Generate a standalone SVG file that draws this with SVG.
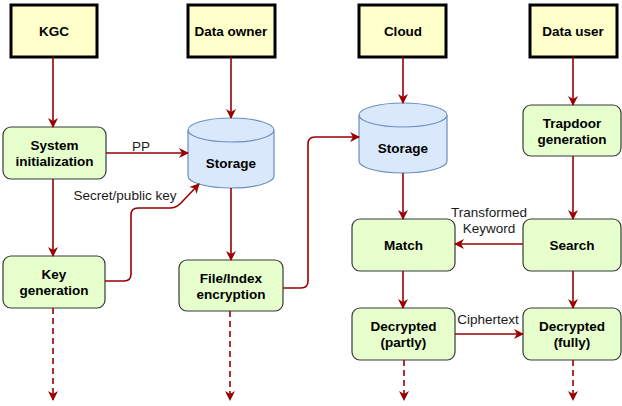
<svg xmlns="http://www.w3.org/2000/svg" width="622" height="406" viewBox="0 0 622 406">
  <style>
    .actor { fill: #FFFFCC; stroke: #000000; stroke-width: 3; }
    .step { fill: #E6FFCC; stroke: #36393D; stroke-width: 1.2; }
    .db { fill: #DAE8FC; stroke: #6C8EBF; stroke-width: 1.2; }
    .t { font-family: "Liberation Sans", Arial, sans-serif; font-size: 13.5px; font-weight: bold; fill: #000000; text-anchor: middle; }
    .lbl { font-family: "Liberation Sans", Arial, sans-serif; font-size: 13.5px; fill: #1a1a1a; text-anchor: middle; }
    .flow { fill: none; stroke: #990000; stroke-width: 1.6; }
    .dash { stroke-dasharray: 6 4; }
  </style>
  <defs>
    <marker id="arrow" markerWidth="10" markerHeight="10" refX="9" refY="5" orient="auto" markerUnits="userSpaceOnUse">
      <path d="M0,0 L10,5 L0,10 L3,5 Z" fill="#990000"/>
    </marker>
  </defs>
  <rect width="622" height="406" fill="#FFFFFF"/>

  <!-- actors -->
  <g id="kgc"><rect class="actor" x="11" y="5" width="86" height="52"/><text class="t" x="54" y="36">KGC</text></g>
  <g id="data-owner"><rect class="actor" x="188" y="5" width="87" height="52"/><text class="t" x="231" y="36">Data owner</text></g>
  <g id="cloud"><rect class="actor" x="359" y="5" width="87" height="52"/><text class="t" x="403" y="36">Cloud</text></g>
  <g id="data-user"><rect class="actor" x="530" y="5" width="87" height="52"/><text class="t" x="573" y="36">Data user</text></g>

  <!-- storage cylinders -->
  <g id="storage-owner">
    <path class="db" d="M188,130 A43,12 0 0 1 274,130 L274,176 A43,12 0 0 1 188,176 Z"/>
    <path class="db" fill="none" d="M188,130 A43,12 0 0 0 274,130"/>
    <text class="t" x="231" y="168">Storage</text>
  </g>
  <g id="storage-cloud">
    <path class="db" d="M359,115 A44,12 0 0 1 447,115 L447,161 A44,12 0 0 1 359,161 Z"/>
    <path class="db" fill="none" d="M359,115 A44,12 0 0 0 447,115"/>
    <text class="t" x="403" y="153">Storage</text>
  </g>

  <!-- process steps -->
  <g id="system-init"><rect class="step" x="3" y="127" width="103" height="52" rx="8"/><text class="t" x="54.5" y="150">System</text><text class="t" x="54.5" y="166">initialization</text></g>
  <g id="key-gen"><rect class="step" x="3" y="256" width="102" height="52" rx="8"/><text class="t" x="54" y="279">Key</text><text class="t" x="54" y="295">generation</text></g>
  <g id="file-index"><rect class="step" x="179" y="260" width="104" height="51" rx="8"/><text class="t" x="231" y="283">File/Index</text><text class="t" x="231" y="299">encryption</text></g>
  <g id="trapdoor"><rect class="step" x="523" y="105" width="98" height="51" rx="8"/><text class="t" x="572" y="128">Trapdoor</text><text class="t" x="572" y="144">generation</text></g>
  <g id="match"><rect class="step" x="352" y="219" width="103" height="52" rx="8"/><text class="t" x="403.5" y="250">Match</text></g>
  <g id="search"><rect class="step" x="523" y="219" width="98" height="52" rx="8"/><text class="t" x="572" y="250">Search</text></g>
  <g id="dec-partly"><rect class="step" x="352" y="308" width="103" height="52" rx="8"/><text class="t" x="403.5" y="331">Decrypted</text><text class="t" x="403.5" y="347">(partly)</text></g>
  <g id="dec-fully"><rect class="step" x="523" y="308" width="98" height="52" rx="8"/><text class="t" x="572" y="331">Decrypted</text><text class="t" x="572" y="347">(fully)</text></g>

  <!-- connectors -->
  <g id="connectors">
    <path class="flow" marker-end="url(#arrow)" d="M53,57 L53,127"/>
    <path class="flow" marker-end="url(#arrow)" d="M231,57 L231,118"/>
    <path class="flow" marker-end="url(#arrow)" d="M403,57 L403,103"/>
    <path class="flow" marker-end="url(#arrow)" d="M573,57 L573,105"/>
    <path class="flow" marker-end="url(#arrow)" d="M106,153 L188,153"/>
    <path class="flow" marker-end="url(#arrow)" d="M53,179 L53,256"/>
    <path class="flow" marker-end="url(#arrow)" d="M105,281 L124,281 Q131,281 131,274 L131,215 Q131,208 138,208 L170,208 Q176,208 181,203 L199,184"/>
    <path class="flow" marker-end="url(#arrow)" d="M231,188 L231,260"/>
    <path class="flow" marker-end="url(#arrow)" d="M283,288 L301,288 Q308,288 308,281 L308,144 Q308,137 315,137 L359,137"/>
    <path class="flow" marker-end="url(#arrow)" d="M403,173 L403,219"/>
    <path class="flow" marker-end="url(#arrow)" d="M573,156 L573,219"/>
    <path class="flow" marker-end="url(#arrow)" d="M523,244 L455,244"/>
    <path class="flow" marker-end="url(#arrow)" d="M403,271 L403,308"/>
    <path class="flow" marker-end="url(#arrow)" d="M573,271 L573,308"/>
    <path class="flow" marker-end="url(#arrow)" d="M455,334 L523,334"/>
    <path class="flow dash" marker-end="url(#arrow)" d="M53,308 L53,400"/>
    <path class="flow dash" marker-end="url(#arrow)" d="M230,311 L230,400"/>
    <path class="flow dash" marker-end="url(#arrow)" d="M404,360 L404,400"/>
    <path class="flow dash" marker-end="url(#arrow)" d="M573,360 L573,400"/>
    <text class="lbl" x="141" y="151">PP</text>
    <text class="lbl" x="125" y="200">Secret/public key</text>
    <text class="lbl" x="489" y="217">Transformed</text>
    <text class="lbl" x="489" y="233">Keyword</text>
    <text class="lbl" x="488" y="324">Ciphertext</text>
  </g>
</svg>
